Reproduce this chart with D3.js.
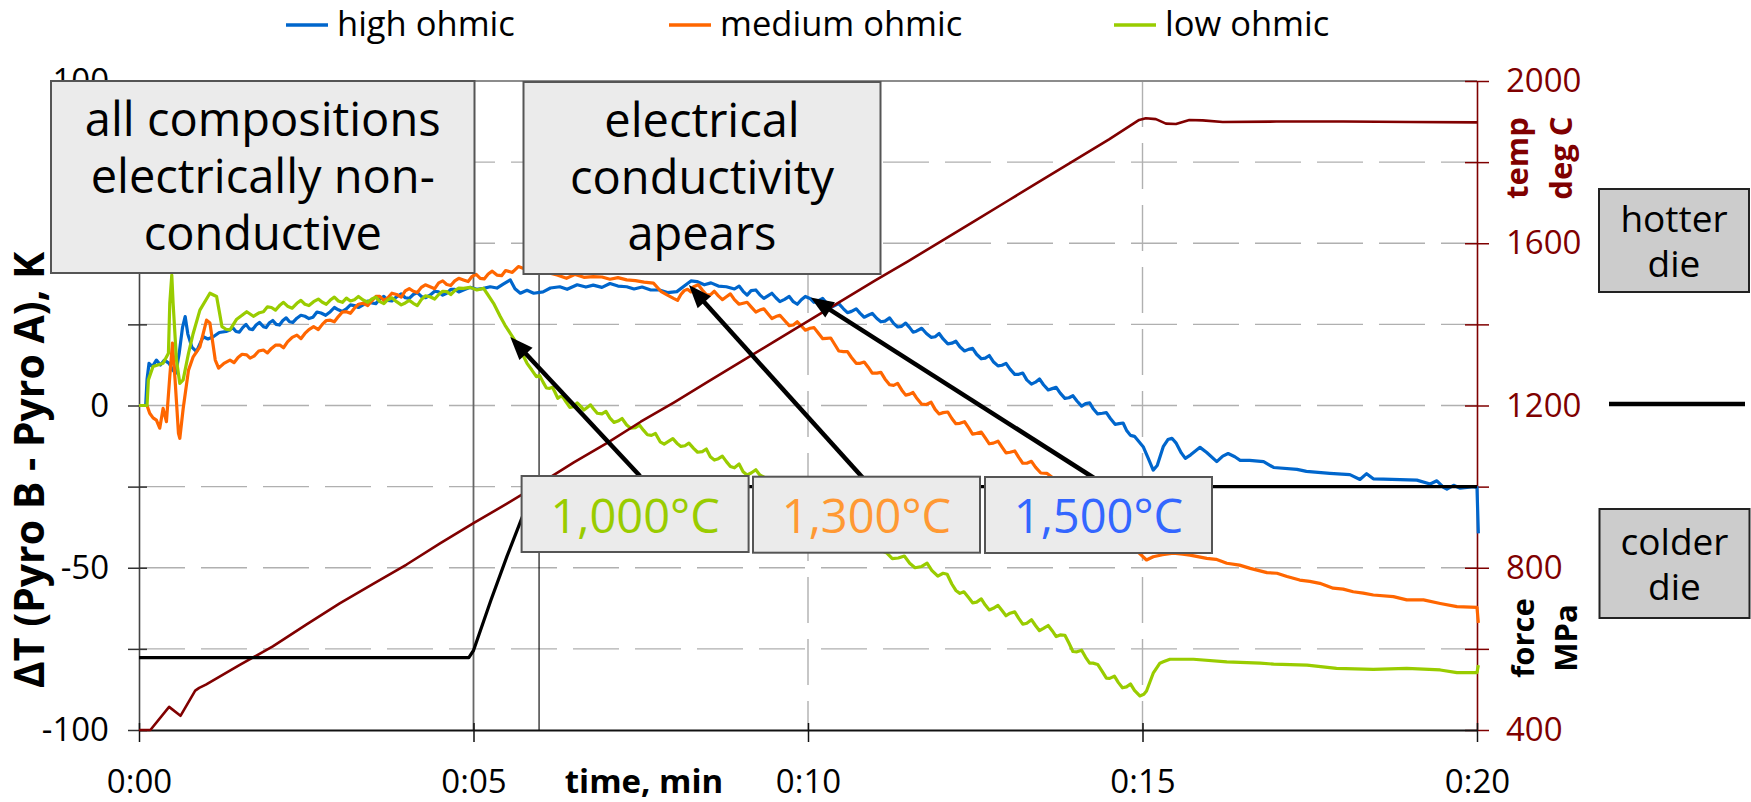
<!DOCTYPE html>
<html>
<head>
<meta charset="utf-8">
<script src="https://cdn.jsdelivr.net/npm/d3@7"></script>
<style>
  html, body { margin: 0; padding: 0; background: #fff; }
  svg { display: block; }
</style>
</head>
<body>
<svg id="chart" width="1751" height="802"></svg>
<script>
// ---- data: [time in minutes, ΔT in K] ----
const highOhmic = [
  [0,0],[0.1,0],[0.12,8],[0.15,13],[0.2,12],[0.26,14],[0.32,12.5],[0.38,14],[0.45,13],[0.5,11],
  [0.55,10],[0.6,16],[0.65,24],[0.69,27.4],[0.73,22],[0.79,18],[0.86,16.6],[0.91,19],[0.96,21.2],[1.03,20.5],
  [1.11,21.2],[1.2,22.5],[1.3,22.8],[1.36,23.3],[1.45,22.8],[1.55,24],[1.65,23.6],[1.75,24.8],[1.86,24.3],[1.95,25.5],
  [2.05,25],[2.15,26.2],[2.25,25.8],[2.36,26.9],[2.48,27.5],[2.6,27.2],[2.72,28.5],[2.86,28.9],[2.98,29.5],[3.1,29.8],
  [3.22,30.8],[3.35,31],[3.48,31.6],[3.6,32.8],[3.72,32.4],[3.85,33.5],[3.98,33.2],[4.1,34.2],[4.22,33.6],[4.35,34],
  [4.48,35],[4.6,34.6],[4.72,35.8],[4.85,35.6],[4.95,36.4],[5.05,35.8],[5.15,36.1],[5.25,36.6],[5.35,36.2],[5.45,37.5],
  [5.55,38.7],[5.62,36],[5.7,34.6],[5.8,35.5],[5.9,34.6],[6.04,35],[6.15,36.2],[6.29,36.6],[6.4,35.8],[6.55,37.2],
  [6.68,36.5],[6.79,37.1],[6.92,36.4],[7.04,37.6],[7.16,36.8],[7.29,36.6],[7.4,35.9],[7.52,36.5],[7.65,35.6],[7.78,35.6],
  [7.9,34.8],[8.04,35.1],[8.15,36.8],[8.25,38.4],[8.34,38.2],[8.45,37.2],[8.55,37.8],[8.66,36.8],[8.78,36.6],[8.9,35.9],
  [9.03,35.2],[9.15,35.4],[9.28,34.1],[9.4,33.8],[9.52,33.2],[9.65,32.7],[9.78,32],[9.9,32.6],[10.03,33],[10.15,32.2],
  [10.28,31.5],[10.4,30.8],[10.53,29.8],[10.65,29],[10.78,28.4],[10.9,27.8],[11.03,26.8],[11.15,26],[11.28,25.3],[11.4,24.4],
  [11.52,24],[11.62,22.9],[11.77,22.2],[11.9,21.2],[12.02,20.5],[12.15,19.2],[12.27,18.1],[12.4,17.3],[12.52,15.8],[12.65,14.6],
  [12.77,13.5],[12.9,12.4],[13.02,11.2],[13.15,9.6],[13.27,7.9],[13.4,7.2],[13.52,6.4],[13.65,5.2],[13.77,3.8],[13.9,2.4],
  [14.02,1.4],[14.15,0.6],[14.26,-0.9],[14.4,-2.4],[14.52,-4],[14.65,-5.6],[14.76,-7.6],[14.88,-9.5],[15.01,-12.7],[15.08,-16],
  [15.16,-19.9],[15.22,-18.5],[15.31,-12.7],[15.38,-10.5],[15.44,-10.1],[15.5,-11.5],[15.58,-14.6],[15.64,-16.3],[15.72,-15.2],[15.86,-12.9],
  [15.96,-14.5],[16.11,-17.3],[16.2,-15.6],[16.28,-14.8],[16.38,-15.8],[16.46,-16.9],[16.6,-16.9],[16.81,-17.3],[16.96,-19.1],[17.31,-19.7],
  [17.45,-20.3],[17.8,-20.9],[18.1,-21.3],[18.25,-22.8],[18.35,-21],[18.45,-22.6],[18.6,-22.7],[19.1,-23],[19.3,-24.2],[19.4,-23.2],
  [19.5,-25.2],[19.55,-25.8],[19.65,-24.6],[19.75,-25.5],[19.95,-25],[20.0,-25.3],[20.02,-39.4]
];
// in-between readings of the noisy stretches
const highOhmicExtra = [
  [1.4,24.0],[1.5,22.6],[1.6,25.0],[1.7,23.4],[1.8,25.6],[1.9,24.0],[2.0,26.2],[2.1,24.8],[2.2,27.0],[2.3,25.6],
  [2.42,27.8],[2.54,26.8],[2.66,28.8],[2.79,27.8],[2.92,30.2],[3.04,29.0],[3.16,31.0],[3.28,30.2],[3.42,32.2],[3.54,31.4],
  [3.66,33.6],[3.78,32.2],[3.92,34.4],[4.04,33.0],[4.16,34.8],[4.28,33.2],[4.42,35.2],[4.54,34.0],[4.66,35.8],[4.78,35.0],
  [8.97,36.8],[9.09,34.0],[9.22,35.6],[9.34,33.0],[9.46,34.6],[9.58,32.0],[9.72,33.6],[9.84,31.2],[9.96,33.6],[10.09,31.8],
  [10.22,33.0],[10.34,30.2],[10.46,31.4],[10.59,28.6],[10.72,29.8],[10.84,27.2],[10.96,28.4],[11.09,25.8],[11.22,27.0],[11.34,24.2],
  [11.46,25.4],[11.57,22.6],[11.7,23.8],[11.84,21.0],[11.96,22.2],[12.09,19.0],[12.21,19.8],[12.34,16.8],[12.46,17.6],[12.59,14.4],
  [12.71,15.4],[12.84,12.2],[12.96,13.0],[13.09,9.6],[13.21,10.0],[13.34,6.6],[13.46,8.2],[13.59,4.8],[13.71,5.6],[13.84,2.2],
  [13.96,3.0],[14.09,-0.2],[14.21,0.8],[14.33,-2.6],[14.46,-2.2],[14.59,-5.8],[14.71,-5.4],[14.82,-9.2]
];
const mediumOhmic = [
  [0,0],[0.12,0],[0.16,-2.4],[0.21,-3.8],[0.26,-4.5],[0.31,-7],[0.36,-0.9],[0.41,-5],[0.46,8.9],[0.5,19.2],
  [0.54,7.7],[0.59,-8.6],[0.61,-10.1],[0.66,-1],[0.74,10.9],[0.81,15],[0.91,18.1],[1.01,26.3],[1.06,25.4],[1.14,14],
  [1.19,11.5],[1.27,13],[1.36,14],[1.48,14.8],[1.61,15.6],[1.72,15.2],[1.86,17.1],[1.98,17.6],[2.11,18.6],[2.22,19.6],
  [2.36,21.7],[2.48,22.2],[2.61,24.3],[2.74,25],[2.86,26.3],[2.98,27.4],[3.1,28.9],[3.22,30],[3.35,31.5],[3.48,32.2],
  [3.6,33.6],[3.72,33.2],[3.85,34.2],[3.98,35.3],[4.1,35.2],[4.22,36.4],[4.35,36.6],[4.48,37.8],[4.6,37.3],[4.72,38.4],
  [4.85,38.7],[4.98,39.8],[5.1,39.2],[5.22,40.5],[5.35,40.2],[5.48,41.6],[5.58,41],[5.67,42.8],[5.8,41.8],[5.95,42.2],
  [6.1,41],[6.25,40.2],[6.39,39.2],[6.52,40.4],[6.65,39.5],[6.79,39.7],[6.92,39.6],[7.04,38.9],[7.16,39.4],[7.29,38.7],
  [7.42,38.5],[7.55,38],[7.69,37.7],[7.8,35.2],[7.9,34],[7.99,33],[8.1,34.2],[8.2,35.8],[8.29,36.6],[8.42,35.6],
  [8.54,34.1],[8.66,33.8],[8.78,33.5],[8.9,32.6],[9.03,31.5],[9.15,30.4],[9.28,29.4],[9.4,28.3],[9.52,27.4],[9.65,26.2],
  [9.78,24.8],[9.9,24.5],[10.03,23.8],[10.15,22.4],[10.28,20.7],[10.4,18.8],[10.53,16.6],[10.65,14.8],[10.78,13],[10.9,11.8],
  [11.03,10],[11.15,8.2],[11.28,6.2],[11.4,4.8],[11.52,3.5],[11.62,2.4],[11.77,0.3],[11.9,-1.2],[12.02,-2.2],[12.15,-4],
  [12.27,-5.5],[12.4,-6.8],[12.52,-8.6],[12.65,-10],[12.77,-11.6],[12.9,-12.8],[13.02,-14.4],[13.15,-16],[13.27,-17.8],[13.4,-19],
  [13.57,-20.9],[13.8,-24.5],[14.1,-29],[14.4,-34],[14.7,-40],[14.95,-45.5],[15.06,-47.6],[15.16,-46.6],[15.3,-46],[15.46,-45.5],
  [15.6,-45.8],[15.71,-46.1],[15.96,-47.1],[16.1,-47.4],[16.26,-48.6],[16.45,-49.2],[16.61,-50.2],[16.86,-51.5],[17.01,-51.7],[17.16,-52.7],
  [17.35,-53.8],[17.5,-54.2],[17.65,-54.8],[17.85,-56.3],[18.0,-56.6],[18.15,-57.4],[18.3,-57.8],[18.45,-58.4],[18.75,-58.9],[18.95,-59.9],
  [19.2,-59.9],[19.45,-61],[19.7,-62],[20.0,-62.2],[20.02,-67]
];
const mediumOhmicExtra = [
  [1.42,13.2],[1.54,15.8],[1.66,14.6],[1.79,16.8],[1.92,16.2],[2.04,18.6],[2.16,17.8],[2.29,21.0],[2.42,20.6],[2.54,23.4],
  [2.68,23.4],[2.8,26.2],[2.92,25.8],[3.04,28.8],[3.16,28.4],[3.28,31.2],[3.42,30.8],[3.54,33.6],[3.66,32.4],[3.78,34.6],
  [3.92,33.4],[4.04,36.0],[4.16,34.8],[4.28,37.2],[4.42,36.0],[4.54,38.4],[4.66,37.0],[4.78,39.2],[4.92,38.2],[5.04,40.4],
  [5.16,39.0],[5.28,41.4],[5.42,40.0],
  [8.05,32.4],[8.15,35.4],[8.25,35.0],[8.36,37.2],[8.48,34.2],[8.6,35.2],[8.72,32.6],[8.84,34.4],[8.97,31.2],[9.09,31.8],
  [9.22,28.8],[9.34,29.8],[9.46,26.8],[9.58,27.8],[9.72,24.6],[9.84,25.8],[9.96,23.2],[10.09,24.0],[10.22,20.6],[10.34,20.8],
  [10.46,16.8],[10.59,16.6],[10.72,13.0],[10.84,13.4],[10.96,10.0],[11.09,10.2],[11.22,6.4],[11.34,6.8],[11.46,3.2],[11.57,4.0],
  [11.7,0.4],[11.84,1.0],[11.96,-2.6],[12.09,-2.0],[12.21,-5.6],[12.34,-5.0],[12.46,-8.8],[12.59,-8.2],[12.71,-11.8],[12.84,-11.0],
  [12.96,-14.6],[13.09,-14.0],[13.21,-17.8],[13.34,-17.2],[13.48,-20.8]
];
const lowOhmic = [
  [0,0],[0.12,0],[0.14,7.9],[0.21,12],[0.28,12.5],[0.36,13],[0.44,16.1],[0.46,31.5],[0.49,40.2],[0.51,31.5],
  [0.56,14],[0.61,6.8],[0.66,7.9],[0.74,16.1],[0.81,22.2],[0.91,29.4],[1.0,32.5],[1.06,34.6],[1.16,33.6],[1.2,29],
  [1.24,24.3],[1.3,23.5],[1.36,23.3],[1.46,26.6],[1.54,27.8],[1.61,28.9],[1.71,27.5],[1.8,28.6],[1.86,28.9],[1.98,30.2],
  [2.11,31],[2.22,30.6],[2.36,31.5],[2.48,31.2],[2.61,32],[2.74,31.8],[2.86,32.5],[2.98,32.2],[3.1,33.1],[3.22,32.6],
  [3.35,32.5],[3.48,32.8],[3.6,32],[3.72,32.6],[3.85,32],[3.98,31.6],[4.1,31.5],[4.22,32.6],[4.35,33.5],[4.48,34.2],
  [4.6,35.1],[4.72,35.4],[4.85,36.1],[4.95,36.4],[5.05,35.6],[5.15,36.1],[5.2,34.6],[5.3,31.5],[5.4,27.4],[5.47,24.8],
  [5.55,22.2],[5.62,20],[5.7,17.1],[5.8,13],[5.87,11],[5.94,8.9],[6.04,7.2],[6.14,5.3],[6.22,4],[6.29,2.7],
  [6.38,1.2],[6.49,-0.4],[6.6,-0.2],[6.7,-0.6],[6.79,-0.9],[6.92,-2.6],[7.04,-3.9],[7.16,-4.8],[7.29,-6],[7.42,-6.8],
  [7.54,-7.6],[7.66,-9.2],[7.79,-11.2],[7.92,-11],[8.04,-11.6],[8.16,-12.4],[8.29,-13.2],[8.42,-14.2],[8.54,-15.8],[8.66,-16.4],
  [8.78,-17.3],[8.9,-19.2],[9.03,-20.4],[9.15,-20.8],[9.28,-21.4],[9.6,-25],[10.0,-30],[10.4,-36],[10.8,-42],[11.18,-45.5],
  [11.35,-47],[11.52,-48.6],[11.7,-49.6],[11.85,-50.8],[12.02,-51.7],[12.15,-55],[12.27,-57.9],[12.4,-59.2],[12.52,-60.6],[12.65,-61.5],
  [12.77,-62.5],[12.9,-63.2],[13.02,-64],[13.15,-65.6],[13.27,-67.1],[13.4,-67.8],[13.52,-68.7],[13.65,-69.4],[13.77,-70.7],[13.9,-73.2],
  [14.02,-75.9],[14.15,-77.6],[14.26,-79.4],[14.4,-82],[14.51,-84.1],[14.64,-85.4],[14.76,-86.7],[14.88,-87.8],[14.96,-89.5],[15.02,-89],
  [15.06,-88],[15.16,-82.5],[15.26,-79.4],[15.31,-79],[15.41,-78.2],[15.76,-78.2],[16.26,-79],[16.76,-79.4],[16.96,-79.7],[17.46,-80],
  [17.9,-81],[18.45,-81.3],[18.95,-81],[19.45,-81.5],[19.7,-82.3],[20.0,-82.3],[20.02,-80]
];
const lowOhmicExtra = [
  [1.92,30.4],[2.04,29.4],[2.16,31.8],[2.29,30.0],[2.42,32.4],[2.54,30.8],[2.68,32.8],[2.8,31.2],[2.92,33.4],[3.04,31.8],
  [3.16,32.2],[3.28,33.6],[3.42,31.8],[3.54,33.4],[3.66,31.4],[3.78,33.2],[3.92,31.0],[4.04,32.4],[4.16,30.8],[4.28,33.8],
  [4.42,32.8],[4.54,35.2],[4.66,34.2],[4.78,36.2],
  [5.99,9.2],[6.09,5.4],[6.18,5.6],[6.26,2.2],[6.33,2.8],[6.44,-0.6],[6.55,0.8],[6.65,-1.4],[6.75,0.2],[6.85,-2.4],
  [6.98,-1.8],[7.1,-5.2],[7.22,-4.0],[7.35,-7.0],[7.48,-6.0],[7.6,-9.0],[7.72,-8.6],[7.85,-11.9],[7.98,-10.2],[8.1,-12.6],
  [8.22,-11.6],[8.35,-14.4],[8.48,-13.4],[8.6,-16.8],[8.72,-15.6],[8.84,-18.8],[8.97,-18.0],[9.09,-21.4],[9.22,-19.8],
  [11.26,-47.2],[11.44,-46.4],[11.6,-50.0],[11.78,-48.6],[11.94,-52.6],[12.08,-52.0],[12.21,-57.0],[12.33,-57.4],[12.46,-60.8],[12.59,-59.6],
  [12.71,-63.0],[12.84,-61.6],[12.96,-64.8],[13.09,-63.6],[13.21,-67.4],[13.34,-66.0],[13.46,-69.4],[13.59,-67.8],[13.71,-71.2],[13.84,-70.8],
  [13.96,-75.8],[14.09,-75.4],[14.21,-79.4],[14.33,-79.8],[14.46,-84.0],[14.58,-83.4],[14.7,-87.0],[14.82,-85.8]
];
// die temperature, [time in minutes, deg C] on the right axis
const dieTemp = [
  [0,400],[0.17,400],[0.45,457],[0.62,435],[0.84,497],[0.9,504],[1.0,512],[1.5,560],[2.0,606],[2.5,660],
  [3.0,712],[3.5,760],[4.0,808],[4.5,860],[5.0,910],[5.5,958],[6.0,1008],[6.5,1060],[7.0,1108],[7.5,1160],
  [8.0,1208],[8.5,1258],[9.0,1308],[9.5,1358],[10.0,1408],[10.5,1458],[11.0,1508],[11.5,1556],[12.0,1606],[12.5,1656],
  [13.0,1706],[13.5,1756],[14.0,1806],[14.5,1856],[14.95,1904],[15.05,1908],[15.2,1906],[15.35,1895],[15.5,1894],[15.7,1904],
  [15.9,1903],[16.2,1899],[17.0,1900],[18.0,1900],[19.0,1899],[20.0,1898]
];
// pressing force trace, drawn against the ΔT scale
const forceLevel = [
  [0,-77.7],[4.93,-77.7],[5.0,-75.5],[5.26,-60],[5.5,-46.5],[5.73,-34.3],[5.92,-25],[20.0,-25]
];

const seriesNames  = ["high ohmic", "medium ohmic", "low ohmic"];
const seriesColors = ["#0066CC", "#FF6600", "#99CC00"];

const xTicks = [0, 5, 10, 15, 20];
const xTickLabels = ["0:00", "0:05", "0:10", "0:15", "0:20"];
const leftTicks = [-100, -75, -50, -25, 0, 25, 50, 75, 100];
const leftTickLabels = ["-100", "", "-50", "", "0", "", "50", "", "100"];
const rightTicks = [400, 600, 800, 1000, 1200, 1400, 1600, 1800, 2000];
const rightTickLabels = ["400", "", "800", "", "1200", "", "1600", "", "2000"];

// onset of conductivity for each composition: [time, ΔT] and label
const onsetPoints = [[5.55, 21.1], [8.22, 37.1], [10.04, 33.3]];
const onsetLabels = ["1,000°C", "1,300°C", "1,500°C"];
const onsetColors = ["#99CC00", "#FF9933", "#3366FF"];

// ---- layout ----
const W = 1751, H = 802;
const M = { left: 139, right: 1477, top: 81, bottom: 730 };
const FONT = "'Open Sans', 'Noto Sans', 'DejaVu Sans', sans-serif";
const DARKRED = "#7F0000";

const x  = d3.scaleLinear().domain([0, 20]).range([M.left, M.right]);
const yL = d3.scaleLinear().domain([-100, 100]).range([M.bottom, M.top]);
const yR = d3.scaleLinear().domain([400, 2000]).range([M.bottom, M.top]);

const byTime = (a, b) => a[0] - b[0];
const traces = [
  highOhmic.concat(highOhmicExtra).sort(byTime),
  mediumOhmic.concat(mediumOhmicExtra).sort(byTime),
  lowOhmic.concat(lowOhmicExtra).sort(byTime)
];

const svg = d3.select("#chart").attr("font-family", FONT);
svg.append("rect").attr("width", W).attr("height", H).attr("fill", "#fff");

// ---- grid ----
const grid = svg.append("g");
grid.selectAll("line.hg").data([-75, -50, -25, 0, 25, 50, 75]).join("line")
  .attr("class", "hg")
  .attr("x1", M.left).attr("x2", M.right)
  .attr("y1", d => yL(d)).attr("y2", d => yL(d))
  .attr("stroke", "#b0b0b0").attr("stroke-width", 1.4).attr("stroke-dasharray", "46 16");
grid.selectAll("line.vg").data([10, 15]).join("line")
  .attr("class", "vg")
  .attr("x1", d => x(d)).attr("x2", d => x(d))
  .attr("y1", M.top).attr("y2", M.bottom)
  .attr("stroke", "#b0b0b0").attr("stroke-width", 1.4).attr("stroke-dasharray", "46 16");
// start of loading and onset marker
grid.append("line").attr("x1", x(5)).attr("x2", x(5)).attr("y1", M.top).attr("y2", M.bottom)
  .attr("stroke", "#666").attr("stroke-width", 1.8);
grid.append("line").attr("x1", x(5.98)).attr("x2", x(5.98)).attr("y1", M.top).attr("y2", M.bottom)
  .attr("stroke", "#000").attr("stroke-width", 1.1);
// upper frame
grid.append("line").attr("x1", M.left).attr("x2", M.right).attr("y1", M.top).attr("y2", M.top)
  .attr("stroke", "#8c8c8c").attr("stroke-width", 2);

// ---- axes ----
const gL = svg.append("g").attr("transform", `translate(${M.left},0)`)
  .call(d3.axisLeft(yL).tickValues(leftTicks).tickFormat((d, i) => leftTickLabels[i])
    .tickSize(11).tickSizeOuter(0).tickPadding(19));
gL.select(".domain").attr("stroke", "#444").attr("stroke-width", 1.6);
gL.selectAll(".tick line").attr("x1", 8).attr("x2", -11).attr("stroke", "#333").attr("stroke-width", 1.5);
gL.selectAll(".tick text").attr("font-size", 33).attr("fill", "#000").attr("font-family", FONT);

const gR = svg.append("g").attr("transform", `translate(${M.right},0)`)
  .call(d3.axisRight(yR).tickValues(rightTicks).tickFormat((d, i) => rightTickLabels[i])
    .tickSize(12).tickSizeOuter(0).tickPadding(17));
gR.select(".domain").attr("stroke", DARKRED).attr("stroke-width", 1.6);
gR.selectAll(".tick line").attr("x1", -12).attr("x2", 12).attr("stroke", DARKRED).attr("stroke-width", 1.5);
gR.selectAll(".tick text").attr("font-size", 33).attr("fill", DARKRED).attr("font-family", FONT);

const gB = svg.append("g").attr("transform", `translate(0,${M.bottom})`)
  .call(d3.axisBottom(x).tickValues(xTicks).tickFormat((d, i) => xTickLabels[i])
    .tickSize(12).tickSizeOuter(0).tickPadding(28));
gB.select(".domain").attr("stroke", "#111").attr("stroke-width", 2);
gB.selectAll(".tick line").attr("y1", -7).attr("stroke", "#111").attr("stroke-width", 1.5);
gB.selectAll(".tick text").attr("font-size", 33).attr("fill", "#000").attr("font-family", FONT);

// ---- data lines ----
const lineL = d3.line().x(d => x(d[0])).y(d => yL(d[1]));
const lineR = d3.line().x(d => x(d[0])).y(d => yR(d[1]));
const plot = svg.append("g");
traces.forEach((s, i) => {
  plot.append("path").datum(s).attr("d", lineL)
    .attr("fill", "none").attr("stroke", seriesColors[i]).attr("stroke-width", 3.2)
    .attr("stroke-linejoin", "round");
});
plot.append("path").datum(dieTemp).attr("d", lineR)
  .attr("fill", "none").attr("stroke", "#800000").attr("stroke-width", 2.6).attr("stroke-linejoin", "round");
plot.append("path").datum(forceLevel).attr("d", lineL)
  .attr("fill", "none").attr("stroke", "#000").attr("stroke-width", 3.2).attr("stroke-linejoin", "round");

// ---- axis titles ----
svg.append("text").attr("transform", "translate(44,470) rotate(-90)")
  .attr("text-anchor", "middle").attr("font-size", 41).attr("font-weight", "bold").attr("fill", "#000")
  .text("ΔT (Pyro B - Pyro A), K");
svg.append("text").attr("x", 644).attr("y", 793)
  .attr("text-anchor", "middle").attr("font-size", 33).attr("font-weight", "bold").attr("fill", "#000")
  .text("time, min");
[["temp", 1528, 158, DARKRED], ["deg C", 1572, 158, DARKRED], ["force", 1534, 638, "#000"], ["MPa", 1577, 638, "#000"]]
  .forEach(([t, tx, ty, c]) => {
    svg.append("text").attr("transform", `translate(${tx},${ty}) rotate(-90)`)
      .attr("text-anchor", "middle").attr("font-size", 31).attr("font-weight", "bold").attr("fill", c).text(t);
  });

// ---- legend ----
const legendX = [286, 669, 1114];
const legend = svg.append("g");
seriesNames.forEach((n, i) => {
  legend.append("line").attr("x1", legendX[i]).attr("x2", legendX[i] + 42).attr("y1", 25).attr("y2", 25)
    .attr("stroke", seriesColors[i]).attr("stroke-width", 3.3);
  legend.append("text").attr("x", legendX[i] + 51).attr("y", 36).attr("font-size", 34.5).attr("fill", "#000").text(n);
});

// ---- annotation boxes ----
function textBox(bx, by, bw, bh, lines, baselines, size, fill, stroke, color) {
  const g = svg.append("g");
  g.append("rect").attr("x", bx).attr("y", by).attr("width", bw).attr("height", bh)
    .attr("fill", fill).attr("stroke", stroke).attr("stroke-width", 2);
  lines.forEach((l, i) => {
    g.append("text").attr("x", bx + bw / 2).attr("y", baselines[i]).attr("text-anchor", "middle")
      .attr("font-size", size).attr("fill", color).text(l);
  });
}
textBox(51, 81, 423.5, 192, ["all compositions", "electrically non-", "conductive"], [136, 193, 250], 47, "#EBEBEB", "#555", "#000");
textBox(523.5, 82, 357, 192, ["electrical", "conductivity", "apears"], [137, 193.5, 250], 47, "#EBEBEB", "#555", "#000");

// ---- arrows from the temperature labels to the onset points ----
const labelBoxes = [[521.6, 476, 227], [753, 476.7, 227], [985, 477, 227]];
const arrowTails = [[640, 476], [863, 478], [1094, 478]];
const arrows = svg.append("g");
onsetPoints.forEach((p, i) => {
  const tip = [x(p[0]), yL(p[1])];
  const tail = arrowTails[i];
  const dx = tip[0] - tail[0], dy = tip[1] - tail[1];
  const len = Math.hypot(dx, dy);
  const ux = dx / len, uy = dy / len, nx = -uy, ny = ux;
  const headL = 23, headW = 9;
  arrows.append("line").attr("x1", tail[0]).attr("y1", tail[1])
    .attr("x2", tip[0] - ux * (headL - 4)).attr("y2", tip[1] - uy * (headL - 4))
    .attr("stroke", "#000").attr("stroke-width", 4.5);
  const bx = tip[0] - ux * headL, by = tip[1] - uy * headL;
  arrows.append("polygon")
    .attr("points", `${tip[0]},${tip[1]} ${bx + nx * headW},${by + ny * headW} ${bx - nx * headW},${by - ny * headW}`)
    .attr("fill", "#000");
});
labelBoxes.forEach((b, i) => {
  textBox(b[0], b[1], b[2], 76, [onsetLabels[i]], [533], 47, "#EBEBEB", "#555", onsetColors[i]);
});

// ---- side key ----
textBox(1599, 189, 150, 103, ["hotter", "die"], [232, 277], 37, "#CCCCCC", "#222", "#000");
textBox(1599.5, 509, 150, 109, ["colder", "die"], [555, 600], 37, "#CCCCCC", "#222", "#000");
svg.append("line").attr("x1", 1609).attr("x2", 1745).attr("y1", 404).attr("y2", 404)
  .attr("stroke", "#000").attr("stroke-width", 4.5);
</script>
</body>
</html>
